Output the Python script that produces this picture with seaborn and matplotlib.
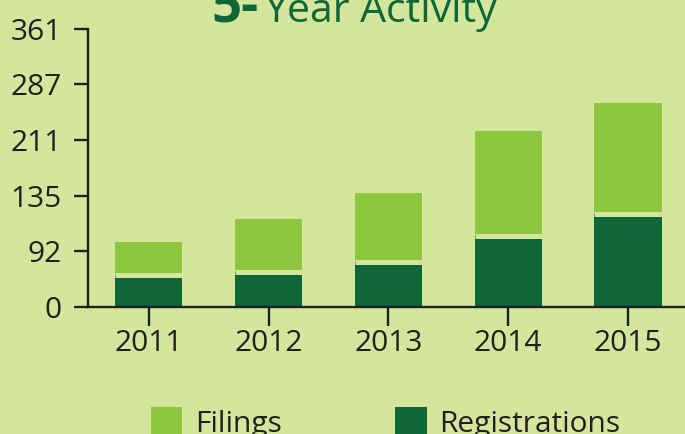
import numpy as np
import pandas as pd
import matplotlib
matplotlib.use("Agg")
import matplotlib.pyplot as plt
from matplotlib.patches import Patch
import seaborn as sns

# Data
years = ["2011", "2012", "2013", "2014", "2015"]
registrations = [53, 58, 75, 104, 121]
filings = [46, 59, 63, 119, 140]
tick_values = [0, 92, 135, 211, 287, 361]

BG = "#d4e59c"
LIGHT = "#8dc63f"
DARK = "#0e6639"
INK = "#231f20"

sns.set_theme(style="ticks")
plt.rcParams["font.family"] = ["Open Sans", "DejaVu Sans"]

df = pd.DataFrame({"year": years, "registrations": registrations, "filings": filings})
df["total"] = df["registrations"] + df["filings"]

W, H = 685, 434
fig = plt.figure(figsize=(W / 100, H / 100), dpi=100, facecolor=BG)
ax = fig.add_axes([88 / W, 1 - 307 / H, 1 - 88 / W, (307 - 28.5) / H])
ax.set_facecolor(BG)

# Tick labels sit at evenly spaced positions: piecewise-linear value scale
tick_pos = np.arange(len(tick_values), dtype=float)


def fwd(v):
    return np.interp(v, tick_values, tick_pos)


def inv(p):
    return np.interp(p, tick_pos, tick_values)


ax.set_yscale("function", functions=(fwd, inv))

bar_w = 0.56
sns.barplot(data=df, x="year", y="total", color=LIGHT, width=bar_w,
            saturation=1, ax=ax, zorder=2, linewidth=0, edgecolor="none")
sns.barplot(data=df, x="year", y="registrations", color=DARK, width=bar_w,
            saturation=1, ax=ax, zorder=3, linewidth=0, edgecolor="none")

# thin separation band between the two stacked segments
xs = np.arange(len(years))
ax.hlines(df["registrations"], xs - bar_w / 2, xs + bar_w / 2,
          colors=BG, linewidth=3.6, zorder=4)

ax.set_ylim(0, 361)
ax.set_xlim(-0.509, 4.476)
ax.set_yticks(tick_values)
ax.set_yticklabels([str(v) for v in tick_values])
ax.set_xlabel("")
ax.set_ylabel("")

for s in ["top", "right"]:
    ax.spines[s].set_visible(False)
for s in ["left", "bottom"]:
    ax.spines[s].set_color(INK)
    ax.spines[s].set_linewidth(1.7)
    ax.spines[s].set_zorder(5)

ax.tick_params(axis="y", direction="out", length=10, width=1.7, color=INK,
               labelsize=21.5, labelcolor=INK, pad=9)
ax.tick_params(axis="x", direction="out", length=13.5, width=1.7, color=INK,
               labelsize=21.5, labelcolor=INK, pad=2)

# Title
fig.text(211 / W, 1 - 21.5 / H, "5-", fontsize=38, fontweight="bold",
         color=DARK, ha="left", va="baseline")
fig.text(264 / W, 1 - 22 / H, "Year Activity", fontsize=29.5,
         color=DARK, ha="left", va="baseline")

# Legend
handles = [Patch(facecolor=LIGHT, edgecolor="none", label="Filings"),
           Patch(facecolor=DARK, edgecolor="none", label="Registrations")]
fig.legend(handles=handles, loc="center left",
           bbox_to_anchor=(151 / W, 1 - 423 / H), ncol=2, frameon=False,
           fontsize=21.5, handlelength=1.05, handleheight=1.05,
           handletextpad=0.42, columnspacing=3.8, borderpad=0,
           borderaxespad=0, labelcolor=INK)

fig.savefig("out.png", dpi=100, facecolor=BG)
